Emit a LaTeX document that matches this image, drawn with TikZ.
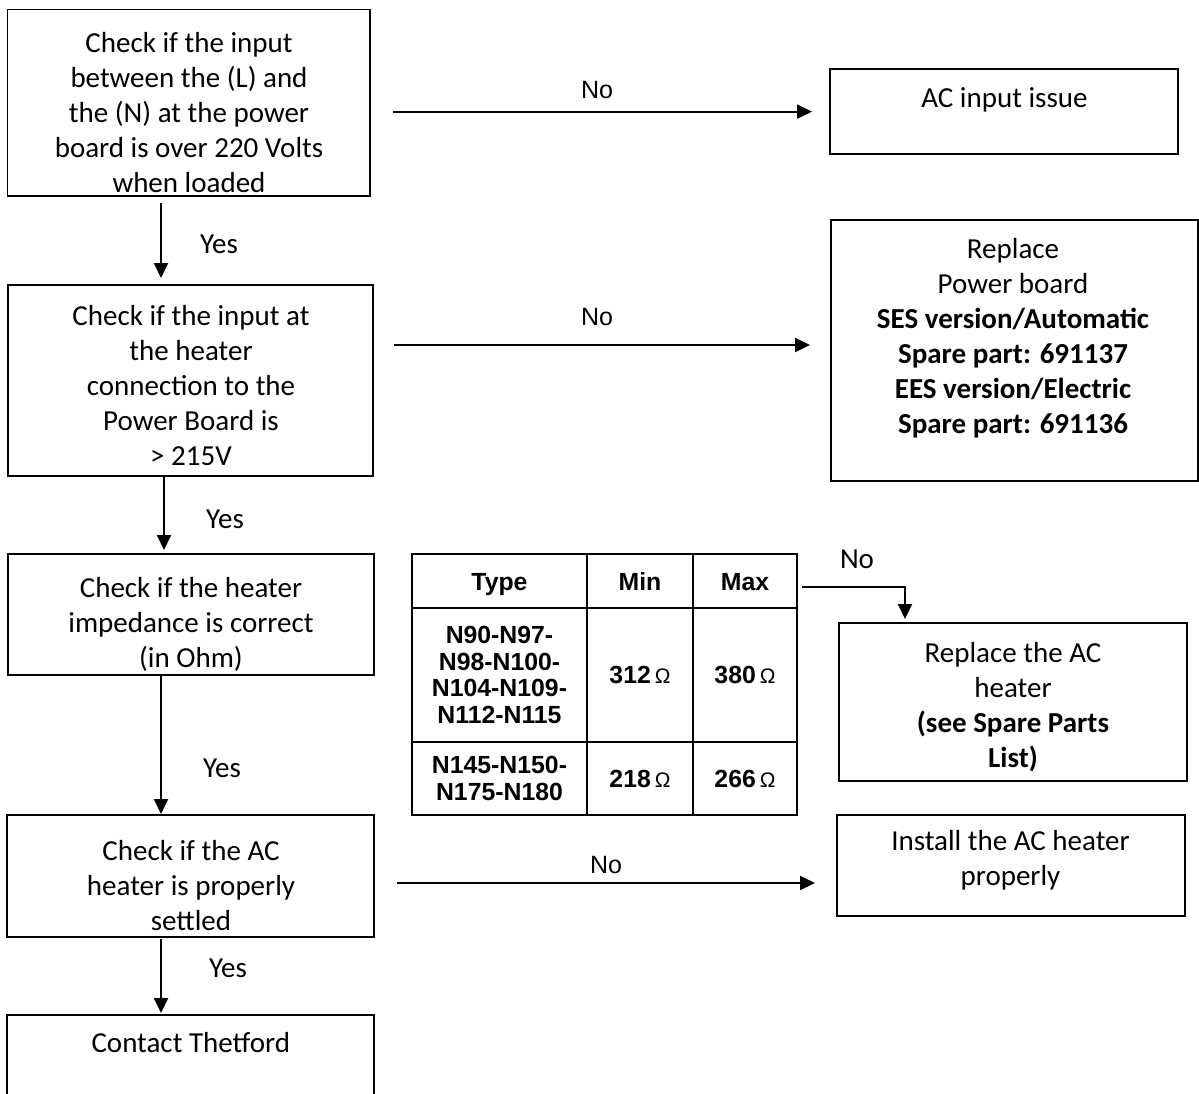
\documentclass[tikz,border=0pt]{standalone}
\usepackage{fontspec}
\setmainfont{Carlito}
\newfontfamily\arialf{Liberation Sans}
\usetikzlibrary{arrows.meta}
\newcommand\ohmsym{\hspace{4pt}{\arialf\mdseries\fontsize{21}{21}\selectfont Ω}}
\begin{document}
\begin{tikzpicture}[x=1pt,y=-1pt,
  box/.style={draw, line width=1.8pt, anchor=north west, inner sep=0pt, outer sep=0pt},
  txt/.style={align=center, inner sep=0pt, anchor=north, font=\fontsize{29}{35}\selectfont},
  cell/.style={draw, line width=2.2pt, anchor=north west, inner sep=0pt, outer sep=0pt, align=center,
    font=\arialf\bfseries\fontsize{24.8}{26.7}\selectfont},
  head/.style={cell, text height=18pt, text depth=0pt},
  arr/.style={line width=2pt, -{Triangle[length=15pt,width=14pt]}},
  nolab/.style={anchor=base, inner sep=0pt, font=\arialf\fontsize{25}{28}\selectfont},
  yeslab/.style={anchor=base, inner sep=0pt, font=\fontsize{29}{35}\selectfont}]
\clip (0,0) rectangle (1199,1093);
% left column boxes
\node[box, minimum width=362.5pt, minimum height=186.5pt] (b1) at (7.5,9.5) {};
\node[box, minimum width=365pt, minimum height=191pt] (b2) at (8.3,285) {};
\node[box, minimum width=366pt, minimum height=121pt] (b3) at (8,554) {};
\node[box, minimum width=367pt, minimum height=121.7pt] (b4) at (7.3,815) {};
\node[box, minimum width=367pt, minimum height=120pt] (b5) at (7.3,1015) {};
% right column boxes
\node[box, minimum width=348pt, minimum height=84.7pt] (ac) at (830,69.3) {};
\node[box, minimum width=367pt, minimum height=261pt] (rp) at (831,220) {};
\node[box, minimum width=348pt, minimum height=158pt] (rh) at (839,623) {};
\node[box, minimum width=348pt, minimum height=101pt] (inst) at (837,815) {};
% texts
\node[txt] (b1t) at (189,27.5) {\strut Check if the input\\between the (L) and\\the (N) at the power\\board is over 220 Volts\\when loaded};
\node[txt] (b2t) at (191,300.5) {\strut Check if the input at\\the heater\\connection to the\\Power Board is\\> 215V};
\node[txt] (b3t) at (191,572.5) {\strut Check if the heater\\impedance is correct\\(in Ohm)};
\node[txt] (b4t) at (191,835.5) {\strut Check if the AC\\heater is properly\\settled};
\node[txt] (b5t) at (190.8,1027.5) {\strut Contact Thetford};
\node[txt] (act) at (1004.5,82.5) {\strut AC input issue};
\node[txt] (rpt) at (1013,233.5) {\strut Replace\\Power board\\\textbf{SES version/Automatic}\\\textbf{Spare part: 691137}\\\textbf{EES version/Electric}\\\textbf{Spare part: 691136}};
\node[txt] (rht) at (1013,637.5) {\strut Replace the AC\\heater\\\textbf{(see Spare Parts}\\\textbf{List)}};
\node[txt] (instt) at (1010.5,825.5) {\strut Install the AC heater\\properly};
% table
\node[head, minimum width=175pt, minimum height=54pt] (tt) at (412,554) {Type};
\node[head, minimum width=106pt, minimum height=54pt] (tmin) at (587,554) {Min};
\node[head, minimum width=104pt, minimum height=54pt] (tmax) at (693,554) {Max};
\node[cell, minimum width=175pt, minimum height=134pt] (r1t) at (412,608) {N90-N97-\\N98-N100-\\N104-N109-\\N112-N115};
\node[cell, minimum width=106pt, minimum height=134pt] (r1min) at (587,608) {312\ohmsym};
\node[cell, minimum width=104pt, minimum height=134pt] (r1max) at (693,608) {380\ohmsym};
\node[cell, minimum width=175pt, minimum height=73pt] (r2t) at (412,742) {N145-N150-\\N175-N180};
\node[cell, minimum width=106pt, minimum height=73pt] (r2min) at (587,742) {218\ohmsym};
\node[cell, minimum width=104pt, minimum height=73pt] (r2max) at (693,742) {266\ohmsym};
% connectors
\draw[arr, shorten <=23pt, shorten >=18pt] (b1.east |- ac.west) -- (ac.west);
\draw[arr, shorten <=21pt, shorten >=21pt] (b2.east |- 0,345) -- (rp.west |- 0,345);
\draw[arr, shorten <=23pt, shorten >=22pt] (b4.east |- 0,883) -- (inst.west |- 0,883);
\draw[arr] ([xshift=5pt,yshift=-6pt]tmax.east) -| ([xshift=66pt,yshift=4pt]rh.north west);
\draw[arr, shorten <=7pt, shorten >=7pt] (b1.south -| 161,0) -- (b2.north -| 161,0);
\draw[arr, shorten >=4pt] (b2.south -| 164,0) -- (b3.north -| 164,0);
\draw[arr, shorten >=1pt] (b3.south -| 161,0) -- (b4.north -| 161,0);
\draw[arr, shorten <=2pt, shorten >=2pt] (b4.south -| 161,0) -- (b5.north -| 161,0);
% labels
\node[nolab] (no1) at (597,98) {No};
\node[nolab] (no2) at (597,325) {No};
\node[nolab] (no4) at (606,873) {No};
\node[yeslab] (no3) at (857,568) {No};
\node[yeslab] (y1) at (219,253) {Yes};
\node[yeslab] (y2) at (225,528) {Yes};
\node[yeslab] (y3) at (222,777) {Yes};
\node[yeslab] (y4) at (228,977) {Yes};
\end{tikzpicture}
\end{document}
